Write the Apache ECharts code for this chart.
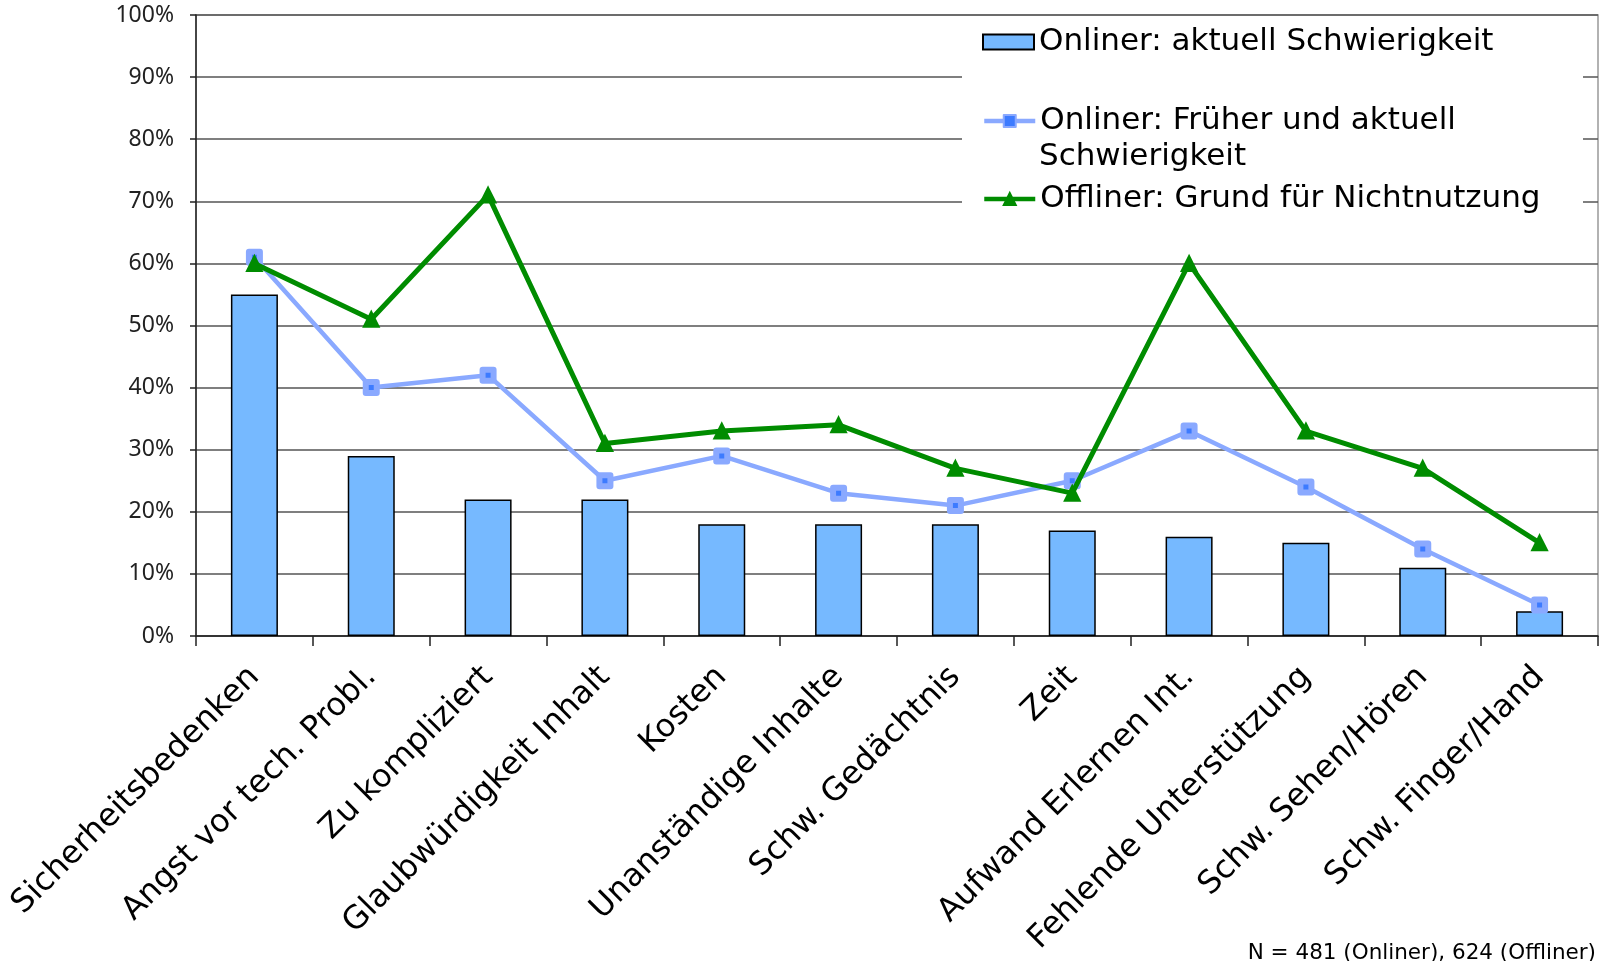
<!DOCTYPE html>
<html>
<head>
<meta charset="utf-8">
<script src="https://cdn.jsdelivr.net/npm/echarts@6/dist/echarts.min.js"></script>
<style>
  html, body { margin: 0; padding: 0; background: #fff; }
  #chart { width: 1604px; height: 961px; }
</style>
</head>
<body>
<div id="chart"></div>
<script>
// Categories (reasons / difficulties)
const categories = [
  'Sicherheitsbedenken', 'Angst vor tech. Probl.', 'Zu kompliziert',
  'Glaubwürdigkeit Inhalt', 'Kosten', 'Unanständige Inhalte',
  'Schw. Gedächtnis', 'Zeit', 'Aufwand Erlernen Int.',
  'Fehlende Unterstützung', 'Schw. Sehen/Hören', 'Schw. Finger/Hand'
];

// Percent values per series
const onlinerAktuell = [55, 29, 22, 22, 18, 18, 18, 17, 16, 15, 11, 4];
const onlinerFrueher = [61, 40, 42, 25, 29, 23, 21, 25, 33, 24, 14, 5];
const offlinerGrund  = [60, 51, 71, 31, 33, 34, 27, 23, 60, 33, 27, 15];

const seriesNames = [
  'Onliner: aktuell Schwierigkeit',
  'Onliner: Früher und aktuell Schwierigkeit',
  'Offliner: Grund für Nichtnutzung'
];
const noteText = 'N = 481 (Onliner), 624 (Offliner)';

const chart = echarts.init(document.getElementById('chart'), null, { renderer: 'canvas' });

const legendFont = { fontFamily: 'DejaVu Sans', fontSize: 31, color: '#000', lineHeight: 36 };
const legendLine = { width: 4.5 };

// the second legend entry wraps: first line in the legend, continuation below it
const wrapAt = 'aktuell ';
const secondFirstLine = seriesNames[1].slice(0, seriesNames[1].indexOf(wrapAt) + wrapAt.length - 1);
const secondRest = seriesNames[1].slice(seriesNames[1].indexOf(wrapAt) + wrapAt.length);

const option = {
  backgroundColor: '#fff',
  animation: false,
  grid: {
    left: 196, right: 6, top: 15, bottom: 325,
    show: true, borderColor: '#999', borderWidth: 1.5, backgroundColor: 'transparent'
  },
  legend: [
    {
      data: [seriesNames[0]], left: 982, top: 24, padding: 0, icon: 'rect',
      itemWidth: 51, itemHeight: 15, textStyle: legendFont, z: 6
    },
    {
      data: [seriesNames[1]], left: 982, top: 103, padding: 0,
      itemWidth: 51, itemHeight: 15, z: 6, lineStyle: legendLine,
      formatter: () => secondFirstLine,
      textStyle: legendFont
    },
    {
      data: [seriesNames[2]], left: 982, top: 181, padding: 0,
      itemWidth: 51, itemHeight: 15, textStyle: legendFont, z: 6, lineStyle: legendLine
    }
  ],
  graphic: [
    {
      type: 'rect', z: 3,
      shape: { x: 962, y: 16, width: 621, height: 212 },
      style: { fill: '#fff' }
    },
    {
      type: 'text', z: 6, left: 1039, top: 141,
      style: { text: secondRest, font: '31px "DejaVu Sans"', fill: '#000' }
    },
    {
      type: 'text', z: 3, right: 8, top: 942,
      style: { text: noteText, font: '21.5px "DejaVu Sans"', fill: '#000' }
    }
  ],
  xAxis: {
    type: 'category',
    data: categories,
    boundaryGap: true,
    axisLine: { lineStyle: { color: '#222', width: 1.5 } },
    axisTick: { show: true, length: 10, inside: false, lineStyle: { color: '#222', width: 1.5 } },
    axisLabel: {
      interval: 0, rotate: 45, margin: 36,
      fontFamily: 'DejaVu Sans', fontSize: 32, color: '#000'
    }
  },
  yAxis: {
    type: 'value', min: 0, max: 100, interval: 10,
    axisLine: { show: true, lineStyle: { color: '#222', width: 1.5 } },
    axisTick: { show: true, length: 6, lineStyle: { color: '#222', width: 1.5 } },
    axisLabel: {
      formatter: '{value}%', margin: 22,
      fontFamily: 'Noto Sans', fontSize: 23, color: '#222'
    },
    splitLine: { show: true, lineStyle: { color: '#555', width: 1.5 } }
  },
  series: [
    {
      name: seriesNames[0], type: 'bar', data: onlinerAktuell,
      barWidth: 47,
      itemStyle: { color: '#76B9FF', borderColor: '#000', borderWidth: 1.5 }
    },
    {
      name: seriesNames[1], type: 'line', data: onlinerFrueher,
      symbol: 'rect', symbolSize: 11, z: 3,
      lineStyle: { color: '#8AA9FF', width: 4.5 },
      itemStyle: { color: '#3D7BFF', borderColor: '#8AA9FF', borderWidth: 6, borderJoin: 'round' }
    },
    {
      name: seriesNames[2], type: 'line', data: offlinerGrund,
      symbol: 'triangle', symbolSize: 15, z: 4,
      lineStyle: { color: '#008C00', width: 5 },
      itemStyle: { color: '#008C00', borderColor: '#008C00', borderWidth: 2 }
    }
  ]
};

chart.setOption(option);
</script>
</body>
</html>
